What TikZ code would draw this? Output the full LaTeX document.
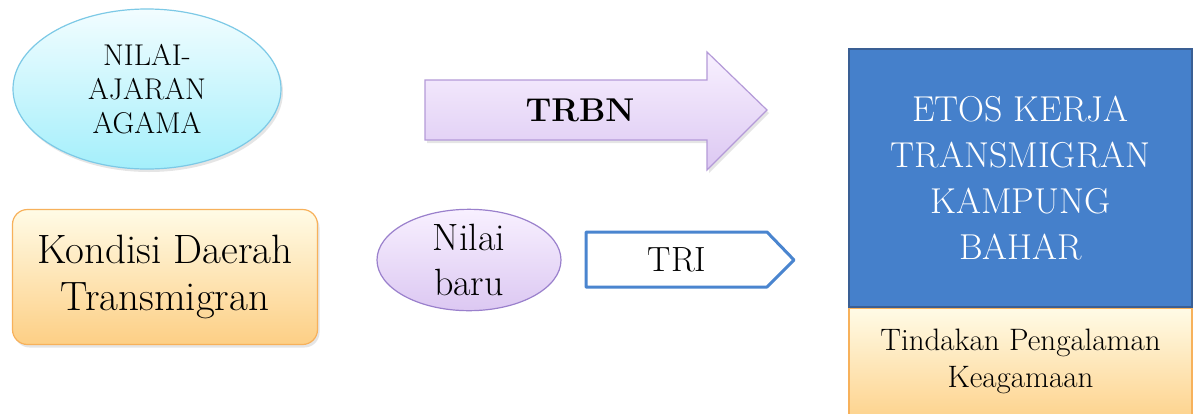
\documentclass[tikz,border=0pt]{standalone}
\usepackage{tikz}
\usetikzlibrary{shapes, calc, shadows}
\definecolor{cyanedge}{HTML}{7CC9E6}
\definecolor{cyantop}{HTML}{F2FDFF}
\definecolor{cyanbot}{HTML}{A4EFFB}
\definecolor{orangeedge}{HTML}{F7B15B}
\definecolor{orangetop}{HTML}{FFFBE6}
\definecolor{orangebot}{HTML}{FDCF85}
\definecolor{lilacedge}{HTML}{B49AD8}
\definecolor{lilactop}{HTML}{F8F0FF}
\definecolor{lilacbot}{HTML}{DCC8F2}
\definecolor{purpleedge}{HTML}{9A80CC}
\definecolor{triedge}{HTML}{4A85CF}
\definecolor{etosfill}{HTML}{4580CB}
\definecolor{etosedge}{HTML}{3A5F94}
\tikzset{box/.style={align=center, inner sep=0pt, line width=1.2pt}}
\tikzset{soft/.style={drop shadow={opacity=.2, shadow xshift=2pt,
    shadow yshift=-3pt}}}

\begin{document}
\begin{tikzpicture}[x=1pt, y=-1pt]
      \useasboundingbox[fill=white] (0,0) rectangle (1195,413);
      % left column
      \node[box, ellipse, draw=cyanedge, top color=cyantop,
        bottom color=cyanbot, soft, minimum width=268, minimum height=160,
        font=\fontsize{30}{34}\selectfont] (ajaran) at (147,89)
        {NILAI-\\AJARAN\\AGAMA};
      \node[box, rounded corners=15pt, draw=orangeedge, top color=orangetop,
        bottom color=orangebot, soft, minimum width=305, minimum height=135,
        font=\fontsize{41}{47}\selectfont] (kondisi) at (165,277)
        {Kondisi Daerah\\Transmigran};
      \node[box, ellipse, draw=purpleedge, top color=lilactop,
        bottom color=lilacbot, minimum width=184, minimum height=94,
        font=\fontsize{38}{45}\selectfont] (baru) at (469,260)
        {Nilai\\baru};
%%%%%%%%%%%%
      % arrows
      \path[draw=lilacedge, line width=1.2pt, top color=lilactop,
        bottom color=lilacbot, soft] (425,80) -- (707,80) -- (707,52)
        -- (767,110) -- (707,170) -- (707,140) -- (425,140) -- cycle;
      \node[font=\fontsize{33}{40}\selectfont\bfseries] (trbn) at (580,110) {TRBN};
      \draw[triedge, line width=3pt, fill=white, line join=round]
        (586,232) -- (767,232) -- (794,260) -- (767,287) -- (586,287) -- cycle;
      \node[font=\fontsize{35}{40}\selectfont] (tri) at (677,260) {TRI};
%%%%%%%%%%%%
      % right column
      \node[box, draw=etosedge, line width=2pt, fill=etosfill, text=white,
        minimum width=343, minimum height=258,
        font=\fontsize{36}{46}\selectfont] (etos) at (1020.5,178)
        {ETOS KERJA\\TRANSMIGRAN\\KAMPUNG\\BAHAR};
      \node[box, draw=orangeedge, top color=orangetop, bottom color=orangebot,
        anchor=north, minimum width=343, minimum height=120] (tindakan)
        at (etos.south) {};
      \node[align=center, font=\fontsize{31}{37}\selectfont] (keagamaan)
        at (1020.5,361) {Tindakan Pengalaman\\Keagamaan};
    \end{tikzpicture}
\end{document}
